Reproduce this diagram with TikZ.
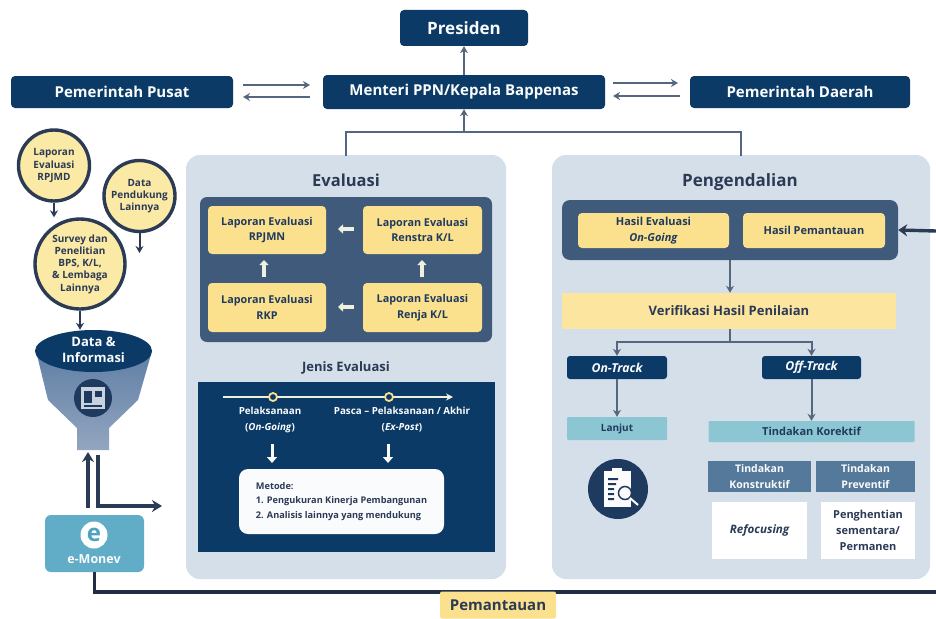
\documentclass[tikz,border=0pt]{standalone}
\usepackage{fontspec}
\setmainfont{Open Sans}
\usetikzlibrary{arrows.meta,shapes.geometric}
\definecolor{navy}{HTML}{0B3A66}
\definecolor{navyd}{HTML}{1F3A5F}
\definecolor{slate}{HTML}{3F5A7A}
\definecolor{panel}{HTML}{D5DFE9}
\definecolor{yel}{HTML}{FBE08E}
\definecolor{yell}{HTML}{FBE9A6}
\definecolor{teal}{HTML}{8CC6D2}
\definecolor{tealb}{HTML}{4FA3C0}
\definecolor{steel}{HTML}{55799B}
\definecolor{funnel}{HTML}{93A5C0}
\definecolor{funneld}{HTML}{5F7FA5}
\definecolor{linec}{HTML}{55677F}
\definecolor{dk}{HTML}{2B3A55}
\definecolor{pale}{HTML}{EFF0DE}
\tikzset{x=1pt,y=-1pt,
 nb/.style={fill=navy,rounded corners=4pt,text=white!90!panel,font=\bfseries\fontsize{15}{17}\selectfont,inner sep=0pt,align=center},
 yb/.style={fill=yel,rounded corners=4pt,text=navyd,font=\bfseries\fontsize{10.8}{15.5}\selectfont,inner sep=0pt,align=center},
 circ/.style={circle,draw=dk,line width=3.4pt,fill=yell,text=dk,font=\bfseries\fontsize{10}{12.3}\selectfont,inner sep=0pt,align=center},
 pan/.style={fill=panel,rounded corners=14pt,inner sep=0pt},
 lnk/.style={draw=linec,line width=2pt,-{Stealth[length=7pt,width=8pt]}},
 plain/.style={draw=linec,line width=2pt},
 dka/.style={draw=dk,line width=3.4pt,-{Stealth[length=9pt,width=12pt]}},
 lka/.style={draw=dk,line width=2pt,-{Stealth[length=7pt,width=8pt]}},
 tb/.style={fill=teal,rounded corners=1pt,text=navyd,font=\bfseries\fontsize{10}{12}\selectfont,inner sep=0pt,align=center},
 sb/.style={fill=steel,text=white!90!panel,font=\bfseries\fontsize{10.5}{16}\selectfont,inner sep=0pt,align=center},
 wb/.style={fill=white,text=dk,font=\bfseries\fontsize{11}{16}\selectfont,inner sep=0pt,align=center},
 tk/.style={nb,rounded corners=3pt,font=\bfseries\itshape\fontsize{12.3}{14}\selectfont},
 ttl/.style={text=dk,font=\bfseries\fontsize{16.5}{19}\selectfont,inner sep=0pt},
 wt/.style={text=white!90!panel,font=\bfseries\fontsize{9.8}{16}\selectfont,inner sep=0pt,align=center},
 fat/.style={draw=pale,line width=3.4pt,-{Triangle[length=5pt,width=9pt]}},
 wa/.style={draw=white!85!panel,line width=3pt,-{Triangle[length=6pt,width=10pt]}},
 tdot/.style={circle,draw=yel,fill=navy,line width=1.8pt,minimum size=8pt,inner sep=0pt},
}
\newcommand{\bx}[7][]{\node[#2,minimum width=#5pt,minimum height=#6pt,#1] (#3) at (#4) {#7};}
\begin{document}
\begin{tikzpicture}
\useasboundingbox (0,0) rectangle (936,618);
\fill[white] (0,0) rectangle (936,618);
% panels
\bx{pan}{evalp}{346,367}{320}{424}{}
\bx{pan}{pengp}{741,367}{378}{424}{}
% top
\bx{nb,font=\bfseries\fontsize{17}{19}\selectfont}{pres}{464,28}{128}{36}{Presiden}
\bx{nb}{pusat}{122,92}{222}{32}{Pemerintah Pusat}
\bx{nb}{menteri}{464,92}{282}{34}{Menteri PPN/Kepala Bappenas}
\bx{nb}{daerah}{800,92}{220}{32}{Pemerintah Daerah}
\coordinate (pa) at (243,85);\coordinate (ma) at (310,85);
\coordinate (pb) at (243,97);\coordinate (mb) at (310,97);
\draw[lnk] (pa)--(ma);\draw[lnk] (mb)--(pb);
\coordinate (ma2) at (613,83);\coordinate (da) at (678,83);
\coordinate (ma3) at (613,96);\coordinate (db) at (680,96);
\draw[lnk] (ma2)--(da);\draw[lnk] (db)--(ma3);
\draw[lnk] (pres |- menteri.north)--(pres.south);
\coordinate (ej) at (464,132);
\draw[lnk] (ej)--(menteri.south);
\draw[plain] (346,156)--(346,132)--(741,132)--(741,156);
% Evaluasi
\node[ttl] (evt) at (346,180) {Evaluasi};
\bx{fill=slate,rounded corners=7pt}{evbg}{346,269.5}{292}{145}{}
\bx{yb}{r1}{267,230}{118}{48}{Laporan Evaluasi\\RPJMN}
\bx{yb}{r2}{422.5,230}{119}{48}{Laporan Evaluasi\\Renstra K/L}
\bx{yb}{r3}{267,307.5}{118}{49}{Laporan Evaluasi\\RKP}
\bx{yb}{r4}{422.5,307.5}{119}{49}{Laporan Evaluasi\\Renja K/L}
\draw[fat] (354,229)--(338,229);
\draw[fat] (354,307)--(338,307);
\draw[fat] (422,277)--(422,260);
\draw[fat] (264,277)--(264,260);
\node[text=dk,font=\bfseries\fontsize{13}{15}\selectfont,inner sep=0pt] (jn) at (346,368) {Jenis Evaluasi};
\bx{fill=navy}{jbg}{346.5,467}{297}{170}{}
\coordinate (ts) at (223,397);\coordinate (te) at (453,397);
\draw[draw=pale,line width=1.8pt,-{Stealth[length=7pt,width=7pt]}] (ts)--(te);
\node[tdot] (t1) at (273,397) {};
\node[tdot] (t2) at (389,397) {};
\node[wt] (l1) at (270,420) {Pelaksanaan\\(\textit{On-Going})};
\node[wt] (l2) at (402,420) {Pasca -- Pelaksanaan / Akhir\\(\textit{Ex-Post})};
\bx{fill=white!88!panel,rounded corners=9pt,text=dk,font=\bfseries\fontsize{9.2}{14.5}\selectfont,inner sep=0pt,align=left}{met}{341.5,501.5}{205}{65}{Metode:\\1. Pengukuran Kinerja Pembangunan\\2. Analisis lainnya yang mendukung}
\draw[wa] (272,444)--(272,463);
\draw[wa] (388,444)--(388,463);
% Pengendalian
\node[ttl,font=\bfseries\fontsize{17}{19}\selectfont] (pgt) at (740,182) {Pengendalian};
\bx{fill=slate,rounded corners=8pt}{pbg}{730,230}{336}{60}{}
\bx{yb,font=\bfseries\fontsize{11}{16}\selectfont}{h1}{653.5,230.5}{151}{35}{Hasil Evaluasi\\\textit{On-Going}}
\bx{yb,font=\bfseries\fontsize{11}{16}\selectfont}{h2}{814,230.5}{142}{35}{Hasil Pemantauan}
\bx{fill=yel!85!white,text=dk,font=\bfseries\fontsize{13}{15}\selectfont,inner sep=0pt}{ver}{729,311}{334}{36}{Verifikasi Hasil Penilaian}
\draw[lnk] (pbg.south)--(pbg.south |- ver.north);
\bx{tk}{on}{617,367.5}{100}{23}{On-Track}
\bx{tk}{off}{811.5,367.5}{99}{23}{Off-Track}
\coordinate (sp) at (730,342);
\draw[plain] (730,329)--(sp);
\draw[lnk] (sp)-|(on.north);
\draw[lnk] (sp)-|(off.north);
\bx{tb}{lj}{617,428.5}{100}{23}{Lanjut}
\bx{tb,font=\bfseries\fontsize{11}{13}\selectfont}{tkr}{811.5,431.5}{206}{21}{Tindakan Korektif}
\draw[lnk] (on.south)--(lj.north);
\draw[lnk] (off.south)--(off.south |- tkr.north);
\bx{sb}{s1}{759.5,476.5}{103}{31}{Tindakan\\Konstruktif}
\bx{sb}{s2}{865.5,476.5}{99}{31}{Tindakan\\Preventif}
\bx{wb,font=\bfseries\itshape\fontsize{11.6}{13}\selectfont}{w1}{759.5,530.5}{95}{57}{Refocusing}
\bx{wb}{w2}{868,530.5}{94}{57}{Penghentian\\sementara/\\Permanen}
% clipboard icon
\node[circle,fill=navyd,minimum size=60pt,inner sep=0pt] (ic) at (618,489) {};
\fill[white!92!panel] (604,471) rectangle (631,507);
\fill[white!92!panel] (612,468) rectangle (622,473);
\fill[navyd] (608,478) rectangle (618,480) (608,483) rectangle (616,485) (608,488) rectangle (614,490) (608,493) rectangle (614,495) (608,498) rectangle (614,500);
\draw[navyd,line width=1.5pt,fill=white!92!panel] (625,493) circle (6.5pt);
\draw[white!92!panel,line width=2pt] (630,498)--(638,505);
% right arrow
\coordinate (rin) at (936,231);
\draw[dka] (rin)--(pbg.east);
% left circles
\node[circ,minimum size=71pt] (c1) at (54,165.5) {Laporan\\Evaluasi\\RPJMD};
\node[circ,minimum size=71pt] (c2) at (139.5,196) {Data\\Pendukung\\Lainnya};
\node[circ,minimum size=90pt] (c3) at (80,264) {Survey dan\\Penelitian\\BPS, K/L,\\\& Lembaga\\Lainnya};
\coordinate (c2e) at (139.5,253);
\draw[lka] (c2.south)--(c2e);
\draw[lka] (c1.south)--(c1.south |- c3.north);
% funnel
\shade[top color=funneld,bottom color=funnel] (36,351)--(152,351)--(138,400)--(109,428)--(109,450)--(77,450)--(77,428)--(48,400)--cycle;
\node[fill=navy,ellipse,minimum width=117pt,minimum height=42pt,inner sep=0pt] (fe) at (93.5,351) {};
\node[text=white!90!panel,font=\bfseries\fontsize{13}{16}\selectfont,inner sep=0pt,align=center] (fn) at (93.5,350) {Data \&\\Informasi};
\draw[lka] (c3.south)--(c3.south |- fe.north);
\node[circle,fill=navyd,minimum size=38pt,inner sep=0pt] (fi) at (93,398) {};
\fill[funnel!50!white] (81,387) rectangle (105,409);
\fill[navyd] (84,391) rectangle (92,403);
\fill[navyd] (95,391) rectangle (102,397);
\fill[navyd] (84,405) rectangle (102,407);
% e-Monev
\bx{fill=tealb!90!white,rounded corners=6pt}{em}{94.5,543.5}{99}{57}{}
\node[text=white!92!panel,font=\bfseries\fontsize{12.5}{14}\selectfont,inner sep=0pt] (emt) at (94,559) {e-Monev};
\node[circle,fill=white,minimum size=27pt,inner sep=0pt,text=tealb,font=\bfseries\fontsize{24}{24}\selectfont] (eic) at (94,535) {\raisebox{1pt}{e}};
\coordinate (uA) at (88,508);\coordinate (uB) at (88,452);
\draw[dk,line width=3.4pt,-{Stealth[length=10pt,width=12pt]}] (uA)--(uB);
\coordinate (dA) at (98,455);\coordinate (dB) at (162,506);
\draw[dk,line width=3.4pt,-{Stealth[length=10pt,width=12pt]}] (dA)--(98,506)--(dB);
\coordinate (lr) at (936,592);
\draw[dk!80!black,line width=3.4pt] (em.south)--(94.5,592)--(lr);
\bx{fill=yel,rounded corners=2pt,text=dk,font=\bfseries\fontsize{15}{17}\selectfont,inner sep=0pt}{pm}{498,605}{116}{27}{Pemantauan}
\end{tikzpicture}
\end{document}
